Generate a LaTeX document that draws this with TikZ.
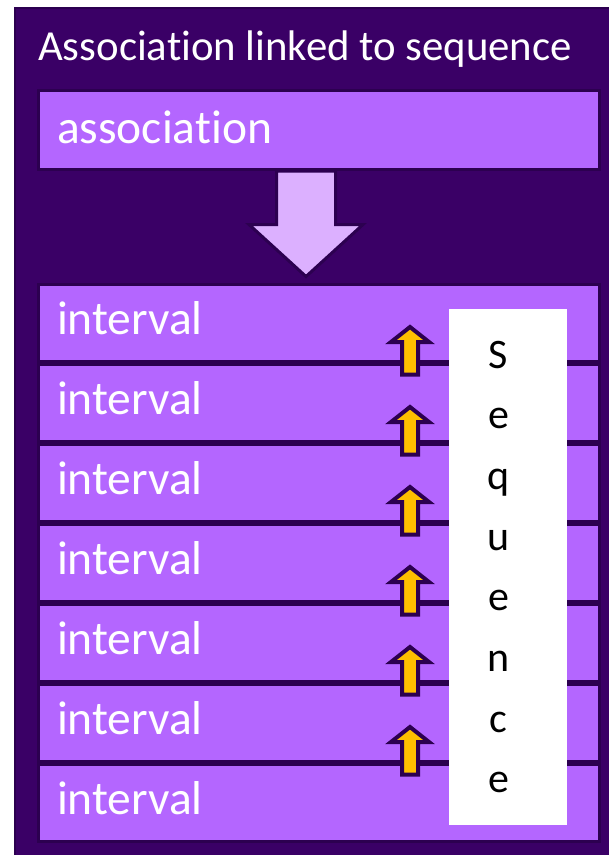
\documentclass[tikz,border=0pt]{standalone}
\usepackage{fontspec}
\setmainfont{Carlito}[Ligatures=NoCommon]
\definecolor{frame}{HTML}{3A0066}
\definecolor{edge}{HTML}{2C0050}
\definecolor{lilac}{HTML}{B466FF}
\definecolor{pale}{HTML}{DCB0FF}
\definecolor{gold}{HTML}{FFC000}
\tikzset{
 block/.style={draw=edge, line width=3pt, fill=lilac, text=white, anchor=north west,
  minimum width=561, minimum height=77, inner xsep=19pt, text width=523pt, align=left,
  text height=23pt, text depth=0pt, font=\fontsize{47.5}{50}\selectfont},
 letter/.style={anchor=base, inner sep=0pt, font=\fontsize{42}{48}\selectfont},
 up/.style={fill=gold, draw=edge, line width=4pt, line join=miter}
}
\begin{document}
\begin{tikzpicture}[x=1pt, y=-1pt]
 \useasboundingbox (0,0) rectangle (609,855);
 \clip (0,0) rectangle (609,855);
 % outer frame
 \draw[fill=frame, draw=edge, line width=2pt] (15,8) rectangle (614,860);
 \node[anchor=base west, inner sep=0pt, text=white, font=\fontsize{42.8}{48}\selectfont]
  (title) at (38,60) {Association linked to sequence};
 \node[block, minimum height=79, text height=27pt] (assoc) at (36.5,89) {association};
 % big arrow down
 \draw[fill=pale, draw=edge, line width=3pt, line join=miter]
  (276.5,171) -- (276.5,224.5) -- (249,224.5) -- (306,276.5) -- (363,224.5)
  -- (335.5,224.5) -- (335.5,171) -- cycle;
 % intervals
 \foreach \i in {0,...,6}
  \node[block] (iv\i) at (36.5,{283+80*\i}) {interval};
 % sequence strip
 \node[fill=white, inner sep=0pt, anchor=north west, minimum width=118, minimum height=516]
  (seq) at (449,309) {};
 \foreach \c [count=\i from 0] in {S,e,q,u,e,n,c,e}
  \node[letter] (s\i) at (498.5,{368+60.7*\i}) {\c};
 % small arrows on the joints
 \foreach \i in {0,...,5}{
  \def\L{361+80*\i}
  \draw[up] (410,{\L-34}) -- (429,{\L-19}) -- (418,{\L-19}) -- (418,{\L+13.5})
   -- (402,{\L+13.5}) -- (402,{\L-19}) -- (391,{\L-19}) -- cycle;
 }
\end{tikzpicture}
\end{document}
